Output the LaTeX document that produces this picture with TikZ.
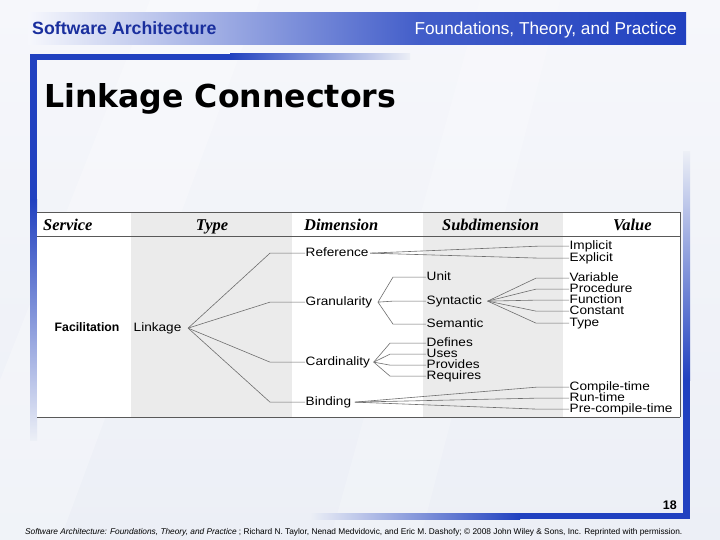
\documentclass[tikz,border=0pt]{standalone}
\usepackage{fontspec}
\setmainfont{Liberation Sans}
\newfontfamily\bodyfont[FakeStretch=1.12]{Liberation Sans}
\newfontfamily\titlefont{DejaVu Sans}
\newfontfamily\serifbi{Liberation Serif}
\usetikzlibrary{calc}
\definecolor{barblue}{HTML}{2141C0}
\definecolor{bgc}{HTML}{ECEFF6}
\definecolor{bgl}{HTML}{F6F7FB}
\definecolor{colgray}{HTML}{EBEBEB}
\definecolor{linegray}{HTML}{6E6E6E}
\definecolor{hdrtext}{HTML}{1A2F9E}
\tikzset{
  body/.style={font=\bodyfont\fontsize{12.2}{13}\selectfont, inner sep=0.5bp, anchor=mid west,
    text height=8.2bp, text depth=1.2bp, yshift=-3bp},
  hdr/.style={font=\serifbi\bfseries\itshape\fontsize{16.5}{18}\selectfont, inner sep=0bp, anchor=mid west, yshift=-3bp},
  ln/.style={draw=linegray, line width=0.6bp},
  rule/.style={draw=black!65, line width=0.8bp}
}
\begin{document}
\begin{tikzpicture}[x=1bp,y=-1bp]
\useasboundingbox (0,0) rectangle (720,540);
% background
\shade[top color=bgl, bottom color=bgc] (0,0) rectangle (720,540);
\fill[white, opacity=0.25] (150,0) -- (260,0) -- (60,540) -- (0,540) -- (0,380) -- cycle;
\fill[white, opacity=0.2] (480,0) -- (560,0) -- (420,540) -- (330,540) -- cycle;
% header bar
\shade[left color=barblue!4, right color=barblue!85] (28,13) rectangle (420,45);
\shade[left color=barblue!85, right color=barblue] (420,13) rectangle (686,45);
% title frame
\fill[barblue] (30,54) rectangle (230,60);
\shade[left color=barblue, right color=bgc] (230,54) rectangle (410,60);
\fill[barblue] (30,54) rectangle (37,200);
\shade[top color=barblue, bottom color=bgc] (30,200) rectangle (37,440);
% right/bottom frame
\shade[top color=bgc, bottom color=barblue] (683,152) rectangle (690,380);
\fill[barblue] (683,380) rectangle (690,519);
\shade[left color=bgc, right color=barblue] (310,513) rectangle (520,519);
\fill[barblue] (520,513) rectangle (690,519);
% header texts
\node[anchor=base west, inner sep=0, text=hdrtext, font=\bfseries\fontsize{17.8}{19}\selectfont] (sa) at (32,35) {Software Architecture};
\node[anchor=base east, inner sep=0, text=white, font=\fontsize{17.3}{19}\selectfont] (ftp) at (677,35) {Foundations, Theory, and Practice};
\node[anchor=base west, inner sep=0, font=\titlefont\bfseries\fontsize{31.7}{34}\selectfont] (title) at (44,108) {Linkage Connectors};
% table
\fill[white] (37,212) rectangle (681,417);
\fill[colgray] (131,212) rectangle (292,417);
\fill[colgray] (423,212) rectangle (563,417);
\draw[rule] (37,212) -- (680,212) -- (680,417);
\draw[rule] (37,236) -- (680,236);
\draw[rule] (37,417) -- (680,417);
\node[hdr] (hserv) at (43,225) {Service};
\node[hdr, anchor=mid] (htype) at (212,225) {Type};
\node[hdr] (hdim) at (304,225) {Dimension};
\node[hdr] (hsub) at (442,225) {Subdimension};
\node[hdr] (hval) at (613,225) {Value};
% body
\node[body, font=\bfseries\fontsize{12.3}{14}\selectfont] (fac) at (54,326) {Facilitation};
\node[body] (link) at (133,326) {Linkage};
\node[body] (ref) at (305,251) {Reference};
\node[body] (gran) at (305,300) {Granularity};
\node[body] (card) at (305,360) {Cardinality};
\node[body] (bind) at (305,400) {Binding};
\node[body] (unit) at (426,275) {Unit};
\node[body] (syn) at (426,299) {Syntactic};
\node[body] (sem) at (426,322) {Semantic};
\node[body] (def) at (426,341) {Defines};
\node[body] (uses) at (426,352) {Uses};
\node[body] (prov) at (426,363) {Provides};
\node[body] (req) at (426,374) {Requires};
\node[body] (imp) at (569,244) {Implicit};
\node[body] (exp) at (569,256) {Explicit};
\node[body] (var) at (569,276) {Variable};
\node[body] (proc) at (569,287) {Procedure};
\node[body] (func) at (569,298) {Function};
\node[body] (const) at (569,309) {Constant};
\node[body] (typ) at (569,321) {Type};
\node[body] (ct) at (569,385) {Compile-time};
\node[body] (rt) at (569,396) {Run-time};
\node[body] (pct) at (569,407) {Pre-compile-time};
% connectors
\coordinate (la) at ($(link.east)+(6,0)$);
\foreach \t in {ref,gran,card,bind}
  \draw[ln] (la) -- ($(\t.west)+(-35,0)$) -- (\t.west);
\coordinate (ra) at ($(ref.east)+(1,0)$);
\foreach \t in {imp,exp}
  \draw[ln] (ra) -- ($(\t.west)+(-30,0)$) -- (\t.west);
\coordinate (ga) at ($(gran.east)+(5,0)$);
\foreach \t in {unit,syn,sem}
  \draw[ln] (ga) -- ($(\t.west)+(-33,0)$) -- (\t.west);
\coordinate (sa2) at ($(syn.east)+(5,0)$);
\foreach \t in {var,proc,func,const,typ}
  \draw[ln] (sa2) -- ($(\t.west)+(-33,0)$) -- (\t.west);
\coordinate (ca) at ($(card.east)+(3,0)$);
\foreach \t in {def,uses,prov,req}
  \draw[ln] (ca) -- ($(\t.west)+(-36,0)$) -- (\t.west);
\coordinate (ba) at ($(bind.east)+(3,0)$);
\foreach \t in {ct,rt,pct}
  \draw[ln] (ba) -- ($(\t.west)+(-32,0)$) -- (\t.west);
% footer
\node[anchor=base east, inner sep=0, font=\bfseries\fontsize{12.5}{14}\selectfont] (pg) at (677,509) {18};
\node[anchor=base west, inner sep=0, font=\fontsize{8.35}{9}\selectfont] (foot) at (25,534) {\textit{Software Architecture: Foundations, Theory, and Practice} ; Richard N. Taylor, Nenad Medvidovic, and Eric M. Dashofy; © 2008 John Wiley \& Sons, Inc. Reprinted with permission.};
\end{tikzpicture}
\end{document}
